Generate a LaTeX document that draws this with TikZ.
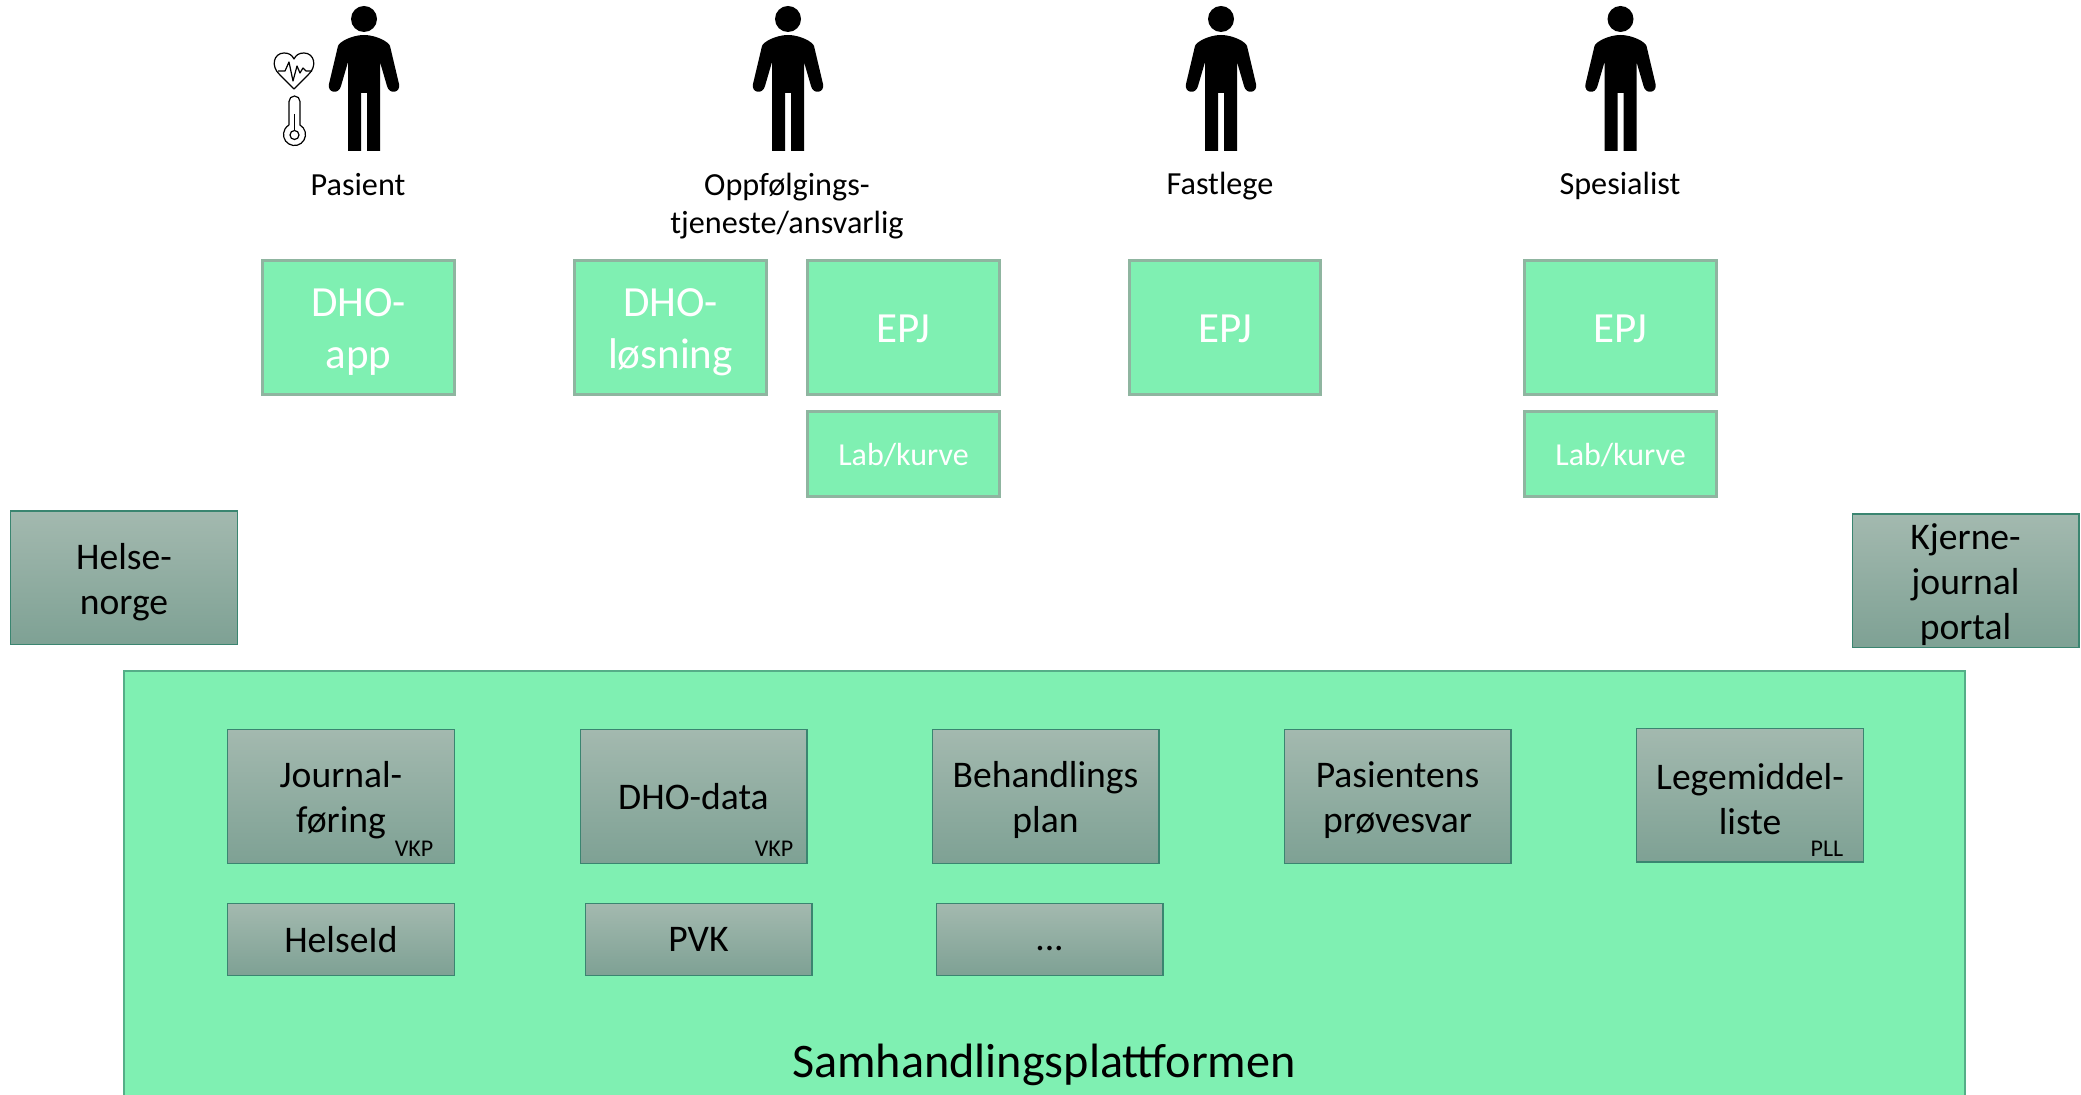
\documentclass[tikz,border=0pt]{standalone}
\usepackage{fontspec}
\setmainfont{Carlito}
\usetikzlibrary{positioning}
\newcommand{\sizeapp}{\fontsize{21.5}{26}\selectfont}
\newcommand{\sizelab}{\fontsize{16}{19}\selectfont}
\newcommand{\sizegray}{\fontsize{18.8}{22.5}\selectfont}
\newcommand{\sizerole}{\fontsize{16.1}{19}\selectfont}
\newcommand{\sizetag}{\fontsize{12}{14}\selectfont}
\newcommand{\drop}[1]{\rule{0pt}{#1}}
\definecolor{mint}{HTML}{7FF0B2}
\definecolor{mintline}{HTML}{8FB5A0}
\definecolor{graytop}{HTML}{A3B9AF}
\definecolor{graybot}{HTML}{7EA194}
\definecolor{grayline}{HTML}{3A8570}
\definecolor{platline}{HTML}{55AE88}
\tikzset{
  appbox/.style={draw=mintline,line width=1.5pt,fill=mint,text=white,align=center,outer sep=0pt,
    minimum width=95.8pt,minimum height=66.8pt,inner sep=0pt,font=\sizeapp},
  labbox/.style={appbox,minimum height=42.2pt,font=\sizelab},
  graybox/.style={draw=grayline,line width=.6pt,top color=graytop,bottom color=graybot,text=black,align=center,
    outer sep=0pt,minimum width=113.4pt,minimum height=66.9pt,inner sep=0pt,font=\sizegray},
  smallgray/.style={graybox,minimum height=35.9pt},
  role/.style={align=center,font=\sizerole,inner sep=0pt},
  tag/.style={font=\sizetag,inner sep=0pt},
  person/.pic={
    \fill[black] (0,19) circle (13);
    \fill[black] (-3,151) -- (-3,93) -- (3,93) -- (3,151) -- (16,151) -- (16,62) -- (23,86)
      .. controls (25,95) and (37,93) .. (35,84) -- (26,46) .. controls (25,42) and (12,35) .. (0,35)
      .. controls (-12,35) and (-25,42) .. (-26,46) -- (-35,84)
      .. controls (-37,93) and (-25,95) .. (-23,86) -- (-16,62) -- (-16,151) -- cycle;
  }
}
\begin{document}
\begin{tikzpicture}[x=.5pt,y=-.5pt]
    \useasboundingbox (0,0) rectangle (2081,1095);

    % people
    \pic at (364,0) {person};
    \pic at (788,0) {person};
    \pic at (1221,0) {person};
    \pic at (1620.5,0) {person};

    % heart and thermometer
    \draw[line width=.6pt,line join=round] (294,89) -- (280,75) .. controls (270,66) and (274,53) .. (284,53)
      .. controls (289,53) and (292,55) .. (294,59) .. controls (296,55) and (299,53) .. (304,53)
      .. controls (314,53) and (318,66) .. (308,75) -- cycle;
    \draw[line width=.6pt,line join=round] (278,71) -- (285,71) -- (289,62) -- (293,81) -- (297,66) -- (300,73) -- (303,68) -- (306,71) -- (312,71);
    \draw[line width=.6pt] (289,125) -- (289,101.5) arc (180:360:5.5) -- (300,125) arc (-60:240:11);
    \draw[line width=.6pt] (294.5,114) -- (294.5,130);
    \draw[line width=.6pt] (294.5,135) circle (4.5);

    \node[role] (pasientlabel) at (358,185) {Pasient};
    \node[role] (oppfolglabel) at (787,206) {Oppfølgings-\\tjeneste/ansvarlig};
    \node[role] (fastlegelabel) at (1220,186) {Fastlege};
    \node[role] (spesialistlabel) at (1620,186) {Spesialist};

    \node[appbox] (dhoapp) at (358.5,327.5) {\drop{18.6pt}DHO-\\app};
    \node[appbox] (dholosning) at (670.5,327.5) {\drop{18.6pt}DHO-\\løsning};
    \node[appbox] (epjoppf) at (903.5,327.5) {\drop{15pt}EPJ};
    \node[appbox] (epjfast) at (1225,327.5) {\drop{15pt}EPJ};
    \node[appbox] (epjspes) at (1620.5,327.5) {\drop{15pt}EPJ};
    \node[labbox] (laboppf) at (903.5,454) {\drop{12pt}Lab/kurve};
    \node[labbox] (labspes) at (1620.5,454) {\drop{12pt}Lab/kurve};

    \node[graybox] (helsenorge) at (124,578) {\drop{17.7pt}Helse-\\norge};
    \node[graybox] (kjerne) at (1965.5,581) {\drop{16.4pt}Kjerne-\\journal\\portal};

    % platform runs past the lower edge
    \draw[draw=platline,line width=1.2pt,fill=mint] (124,671) rectangle (1965,1120);

    \node[graybox] (journal) at (341,796.5) {\drop{17pt}Journal-\\føring};
    \node[graybox] (dhodata) at (693.5,796.5) {DHO-data};
    \node[graybox] (behandling) at (1045.5,796.5) {\drop{17pt}Behandlings\\plan};
    \node[graybox] (provesvar) at (1397.5,796.5) {\drop{17pt}Pasientens\\prøvesvar};
    \node[graybox] (legemiddel) at (1750,795) {\drop{17pt}Legemiddel-\\liste};
    \node[smallgray] (helseid) at (341,939.5) {HelseId};
    \node[smallgray] (pvk) at (698.5,939.5) {PVK};
    \node[smallgray] (dots) at (1049.5,939.5) {\rule[-2pt]{0pt}{14.6pt}...};

    \node[tag] (vkpjournal) at (414,849) {VKP};
    \node[tag] (vkpdata) at (774,849) {VKP};
    \node[tag] (pll) at (1827,849) {PLL};

    \node[font=\fontsize{24.1}{29}\selectfont,inner sep=0pt] (plattform) at (1044,1065) {Samhandlingsplattformen};
\end{tikzpicture}
\end{document}
